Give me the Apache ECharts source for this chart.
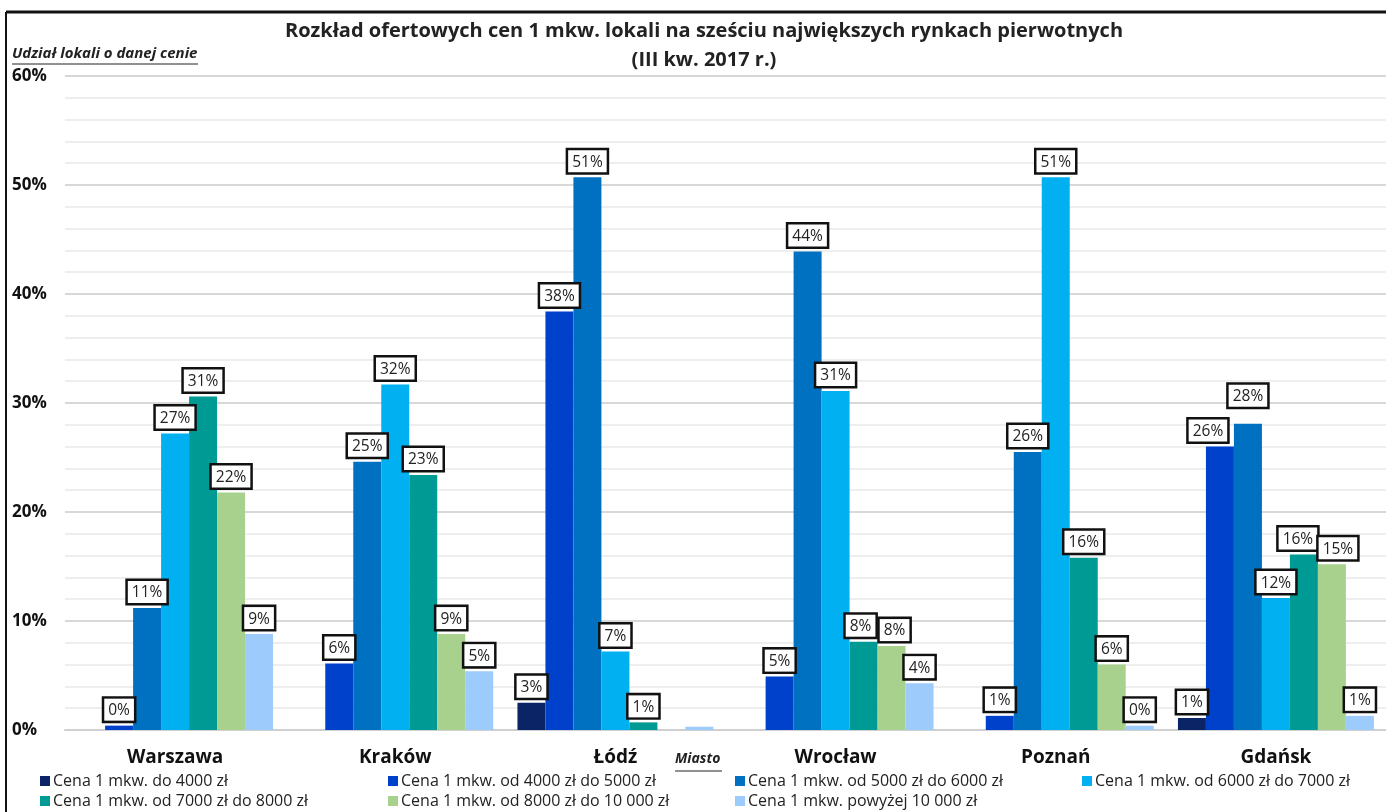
<!DOCTYPE html>
<html>
<head>
<meta charset="utf-8">
<script src="https://cdn.jsdelivr.net/npm/echarts@6/dist/echarts.min.js"></script>
<style>
  html, body { margin: 0; padding: 0; background: #fff; }
  #container { width: 1386px; height: 812px; }
</style>
</head>
<body>
<div id="container"></div>
<script>
var cities = ['Warszawa', 'Kraków', 'Łódź', 'Wrocław', 'Poznań', 'Gdańsk'];
var seriesNames = [
  'Cena 1 mkw. do 4000 zł',
  'Cena 1 mkw. od 4000 zł do 5000 zł',
  'Cena 1 mkw. od 5000 zł do 6000 zł',
  'Cena 1 mkw. od 6000 zł do 7000 zł',
  'Cena 1 mkw. od 7000 zł do 8000 zł',
  'Cena 1 mkw. od 8000 zł do 10 000 zł',
  'Cena 1 mkw. powyżej 10 000 zł'
];
// udział w %, null = brak słupka
var do4000 = [null, null, 2.5, null, null, 1.1];
var od4000 = [0.4, 6.1, 38.4, 4.9, 1.3, 26.0];
var od5000 = [11.2, 24.6, 50.7, 43.9, 25.5, 28.1];
var od6000 = [27.2, 31.7, 7.2, 31.1, 50.7, 12.1];
var od7000 = [30.6, 23.4, 0.7, 8.1, 15.8, 16.1];
var od8000 = [21.8, 8.8, null, 7.7, 6.0, 15.2];
var pow10000 = [8.8, 5.4, 0.3, 4.3, 0.4, 1.3];
var yTicks = [0, 10, 20, 30, 40, 50, 60];

var colors = ['#0b2466', '#0041cc', '#0070c0', '#00b0f0', '#009a94', '#a9d18e', '#9dcbfb'];
var allData = [do4000, od4000, od5000, od6000, od7000, od8000, pow10000];

// etykiety ukryte dla słupków bez opisu na oryginale
var hiddenLabels = { '6_2': true };
// przesunięcia etykiet nachodzących na siebie
var labelOffsets = { '1_5': [-12, 0], '2_5': [0, -12], '4_5': [-6, 0], '5_5': [6, 0], '4_3': [-3, 0], '5_3': [3, 0] };

var dom = document.getElementById('container');
var myChart = echarts.init(dom);

var series = allData.map(function (arr, si) {
  return {
    name: seriesNames[si],
    type: 'bar',
    barGap: 0,
    barCategoryGap: '11%',
    itemStyle: { color: colors[si] },
    label: {
      show: true,
      position: 'top',
      distance: 5,
      formatter: function (p) { return Math.round(p.value) + '%'; },
      backgroundColor: '#fff',
      borderColor: '#111',
      borderWidth: 2.5,
      padding: [4, 4, 2, 4],
      fontFamily: 'Open Sans',
      fontSize: 15.5,
      color: '#222'
    },
    data: arr.map(function (v, ci) {
      var key = si + '_' + ci;
      var item = { value: v };
      if (hiddenLabels[key]) item.label = { show: false };
      else if (labelOffsets[key]) item.label = { offset: labelOffsets[key] };
      return item;
    })
  };
});

var legendCols = [40, 388, 735, 1082];
var legends = seriesNames.map(function (n, i) {
  return {
    data: [n],
    left: legendCols[i % 4],
    top: i < 4 ? 773 : 793,
    itemWidth: 10,
    itemHeight: 10,
    itemGap: 4,
    padding: 0,
    icon: 'rect',
    textStyle: { fontFamily: 'Open Sans', fontSize: 16, color: '#222', padding: [0, 0, 0, -2] }
  };
});

var option = {
  animation: false,
  color: colors,
  title: {
    text: 'Rozkład ofertowych cen 1 mkw. lokali na sześciu największych rynkach pierwotnych\n(III kw. 2017 r.)',
    left: 699,
    textAlign: 'center',
    top: 12,
    textStyle: { fontFamily: 'Open Sans', fontWeight: 'bold', fontSize: 20, color: '#222', lineHeight: 29 }
  },
  legend: legends,
  grid: { left: 65, top: 76, width: 1330, bottom: 82, containLabel: false },
  xAxis: {
    type: 'category',
    data: cities,
    axisLine: { lineStyle: { color: '#d0d0d0', width: 2 } },
    axisTick: { show: false },
    axisLabel: { margin: 18, fontFamily: 'Open Sans', fontWeight: 'bold', fontSize: 19, color: '#111' }
  },
  yAxis: {
    type: 'value',
    min: 0,
    max: 60,
    interval: 10,
    axisLine: { show: false },
    axisTick: { show: false },
    axisLabel: {
      align: 'left',
      margin: 53,
      fontFamily: 'Open Sans',
      fontWeight: 'bold',
      fontSize: 17,
      color: '#111',
      formatter: function (v) { return yTicks.indexOf(v) >= 0 ? v + '%' : ''; }
    },
    splitLine: { lineStyle: { color: '#d8d8d8', width: 2 } },
    minorTick: { show: false, splitNumber: 5 },
    minorSplitLine: { show: true, lineStyle: { color: '#eeeeee', width: 2 } }
  },
  graphic: [
    { type: 'line', shape: { x1: 6, y1: 12, x2: 1386, y2: 12 }, style: { stroke: '#111', lineWidth: 3 } },
    { type: 'line', shape: { x1: 6, y1: 12, x2: 6, y2: 812 }, style: { stroke: '#111', lineWidth: 2 } },
    {
      type: 'text', left: 12, top: 46,
      style: { text: 'Udział lokali o danej cenie', font: 'italic bold 15px "Open Sans"', fill: '#222' }
    },
    { type: 'line', shape: { x1: 12, y1: 64, x2: 198, y2: 64 }, style: { stroke: '#222', lineWidth: 1 } },
    {
      type: 'text', left: 675, top: 752,
      style: { text: 'Miasto', font: 'italic bold 14px "Open Sans"', fill: '#222' }
    },
    { type: 'line', shape: { x1: 675, y1: 771, x2: 722, y2: 771 }, style: { stroke: '#222', lineWidth: 1 } }
  ],
  series: series
};

myChart.setOption(option, true);
</script>
</body>
</html>
